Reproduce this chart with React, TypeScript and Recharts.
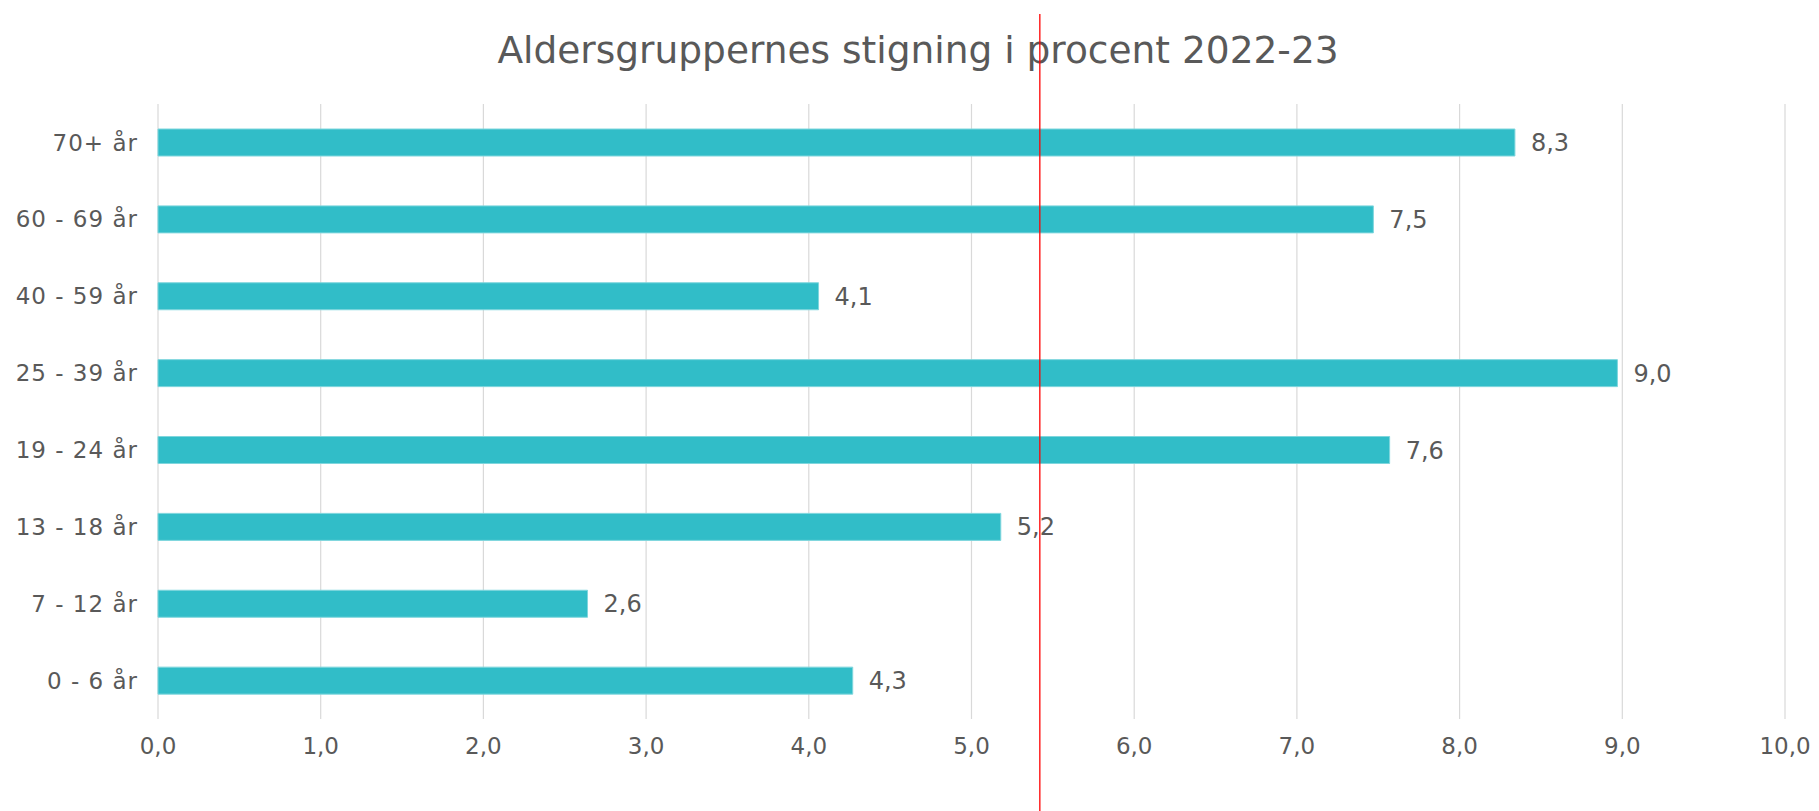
import { BarChart, Bar, XAxis, YAxis, CartesianGrid, ReferenceLine, LabelList } from 'recharts'

const ageGroups = ['70+ år', '60 - 69 år', '40 - 59 år', '25 - 39 år', '19 - 24 år', '13 - 18 år', '7 - 12 år', '0 - 6 år']
const increasePct = [8.34, 7.47, 4.06, 8.97, 7.57, 5.18, 2.64, 4.27]
const xTicks = [0, 1, 2, 3, 4, 5, 6, 7, 8, 9, 10]
const averageLine = 5.42

const TITLE = 'Aldersgruppernes stigning i procent 2022-23'
const FONT = "'DejaVu Sans', Verdana, sans-serif"
const TEXT = '#595959'

const data = ageGroups.map((name, i) => ({ name, value: increasePct[i] }))

const fmt = (v: number) => v.toFixed(1).replace('.', ',')

export default function App() {
  return (
    <div style={{ position: 'absolute', left: 0, top: 0, width: 1819, height: 811, background: '#fff', fontFamily: FONT }}>
      <div
        style={{
          position: 'absolute', left: 0, width: 1836, top: 28, textAlign: 'center',
          fontSize: 37.5, color: TEXT, lineHeight: '44px', whiteSpace: 'nowrap',
        }}
      >
        {TITLE}
      </div>
      <BarChart
        width={1819}
        height={811}
        data={data}
        layout="vertical"
        margin={{ top: 104, right: 34, bottom: 62, left: 0 }}
      >
        <CartesianGrid horizontal={false} stroke="#D9D9D9" strokeWidth={1.2} />
        <XAxis
          type="number"
          domain={[0, 10]}
          ticks={xTicks}
          tickFormatter={fmt}
          axisLine={false}
          tickLine={false}
          tickSize={0}
          tickMargin={19}
          height={30}
          tick={{ fontSize: 23, fill: TEXT, fontFamily: FONT }}
        />
        <YAxis
          type="category"
          dataKey="name"
          width={158}
          axisLine={false}
          tickLine={false}
          tickSize={0}
          tickMargin={20}
          tick={{ fontSize: 23, fill: TEXT, fontFamily: FONT, letterSpacing: 1 }}
        />
        <Bar dataKey="value" fill="#31BDC8" stroke="#7FD6DD" strokeWidth={1} barSize={27} isAnimationActive={false}>
          <LabelList
            dataKey="value"
            position="right"
            offset={16}
            formatter={(v: number) => fmt(v)}
            style={{ fontSize: 24, fill: TEXT, fontFamily: FONT }}
          />
        </Bar>
        <ReferenceLine
          x={averageLine}
          ifOverflow="visible"
          shape={(p: any) => (
            <line x1={p.x1} x2={p.x2} y1={14} y2={811} stroke="#FF0000" strokeWidth={1.3} />
          )}
        />
      </BarChart>
    </div>
  )
}
